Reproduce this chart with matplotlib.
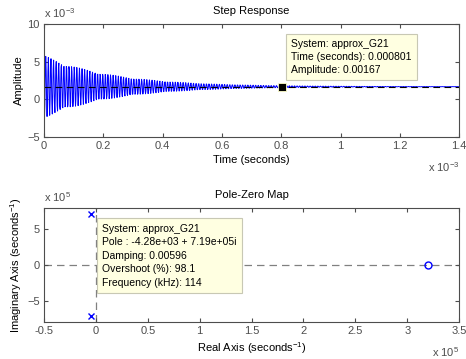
import numpy as np
import matplotlib
matplotlib.use("Agg")
import matplotlib.pyplot as plt

# system read from the data tips
pole = complex(-4.28e3, 7.19e5)
zero = 3.2e5
final_value = 0.00167
t_end = 1.4e-3
cursor_t, cursor_y = 0.000801, 0.00167

step_tip = ["System: approx_G21", "Time (seconds): 0.000801", "Amplitude: 0.00167"]
pz_tip = ["System: approx_G21", "Pole : -4.28e+03 + 7.19e+05i", "Damping: 0.00596",
          "Overshoot (%): 98.1", "Frequency (kHz): 114"]

# step response of K (s - z) / ((s - p)(s - p*)), sampled like MATLAB's step
K = final_value * abs(pole) ** 2 / (-zero)
t = np.linspace(0, t_end, 950)
res = K * (pole - zero) / (pole * (pole - pole.conjugate()))
y = final_value + 2 * np.real(res * np.exp(pole * t))

gray = "#4d4d4d"
plt.rcParams.update({"font.family": "Liberation Sans", "font.size": 8,
                     "xtick.direction": "in", "ytick.direction": "in",
                     "xtick.color": gray, "ytick.color": gray,
                     "xtick.labelcolor": gray, "ytick.labelcolor": gray,
                     "xtick.major.size": 3, "ytick.major.size": 3,
                     "axes.edgecolor": gray, "axes.linewidth": 0.8,
                     "mathtext.fontset": "custom", "mathtext.rm": "Liberation Sans"})

fig = plt.figure(figsize=(4.66, 3.59), dpi=100)
ax1 = fig.add_axes([0.0944, 0.618, 0.891, 0.316])
ax2 = fig.add_axes([0.0944, 0.103, 0.891, 0.318])

tip_box = dict(boxstyle="square,pad=0.5", fc="#ffffe1", ec="#c8c8b4", lw=0.8)

# step response
ax1.plot(t * 1e3, y * 1e3, color="blue", lw=0.7)
ax1.axhline(final_value * 1e3, color="black", ls=(0, (6, 4)), lw=0.8)
ax1.plot(cursor_t * 1e3, cursor_y * 1e3, "s", color="black", ms=5.5, mec="#ffffc8", mew=0.6)
ax1.set_xlim(0, 1.4)
ax1.set_ylim(-5, 10)
ax1.set_xticks(np.arange(0, 1.41, 0.2))
ax1.set_xticklabels(["0", "0.2", "0.4", "0.6", "0.8", "1", "1.2", "1.4"])
ax1.set_yticks([-5, 0, 5, 10])
ax1.tick_params(top=True, right=True, labelsize=8, pad=3)
ax1.set_title("Step Response", fontsize=8, pad=7)
ax1.set_xlabel("Time (seconds)", fontsize=8, labelpad=3)
ax1.set_ylabel("Amplitude", fontsize=8, labelpad=2)
ax1.text(0.0, 1.03, r"x 10$^{-3}$", transform=ax1.transAxes, color=gray, fontsize=8, va="bottom")
ax1.text(1.0, -0.2, r"x 10$^{-3}$", transform=ax1.transAxes, color=gray, fontsize=8, ha="right", va="top")
ax1.text(0.833, 8.0, "\n".join(step_tip), fontsize=7.5, va="top", ha="left",
         linespacing=1.4, bbox=tip_box)

# pole-zero map
ax2.axhline(0, color="#808080", ls=(0, (6, 4)), lw=0.9, zorder=1)
ax2.axvline(0, color="#808080", ls=(0, (6, 4)), lw=0.9, zorder=1)
ax2.plot([pole.real / 1e5] * 2, [pole.imag / 1e5, -pole.imag / 1e5], "x", color="blue", ms=5, mew=1)
ax2.plot(zero / 1e5, 0, "o", color="blue", mfc="none", ms=5, mew=1)
ax2.set_xlim(-0.5, 3.5)
ax2.set_ylim(-8, 8)
ax2.set_xticks(np.arange(-0.5, 3.51, 0.5))
ax2.set_xticklabels(["-0.5", "0", "0.5", "1", "1.5", "2", "2.5", "3", "3.5"])
ax2.set_yticks([-5, 0, 5])
ax2.tick_params(top=True, right=True, labelsize=8, pad=3)
ax2.set_title("Pole-Zero Map", fontsize=8, pad=7)
ax2.set_xlabel(r"Real Axis (seconds$^{-1}$)", fontsize=8, labelpad=3)
ax2.set_ylabel(r"Imaginary Axis (seconds$^{-1}$)", fontsize=8, labelpad=2)
ax2.text(0.0, 1.03, r"x 10$^{5}$", transform=ax2.transAxes, color=gray, fontsize=8, va="bottom")
ax2.text(1.0, -0.2, r"x 10$^{5}$", transform=ax2.transAxes, color=gray, fontsize=8, ha="right", va="top")
ax2.text(0.06, 5.8, "\n".join(pz_tip), fontsize=7.5, va="top", ha="left",
         linespacing=1.45, bbox=tip_box)

fig.savefig("out.png", dpi=100)
